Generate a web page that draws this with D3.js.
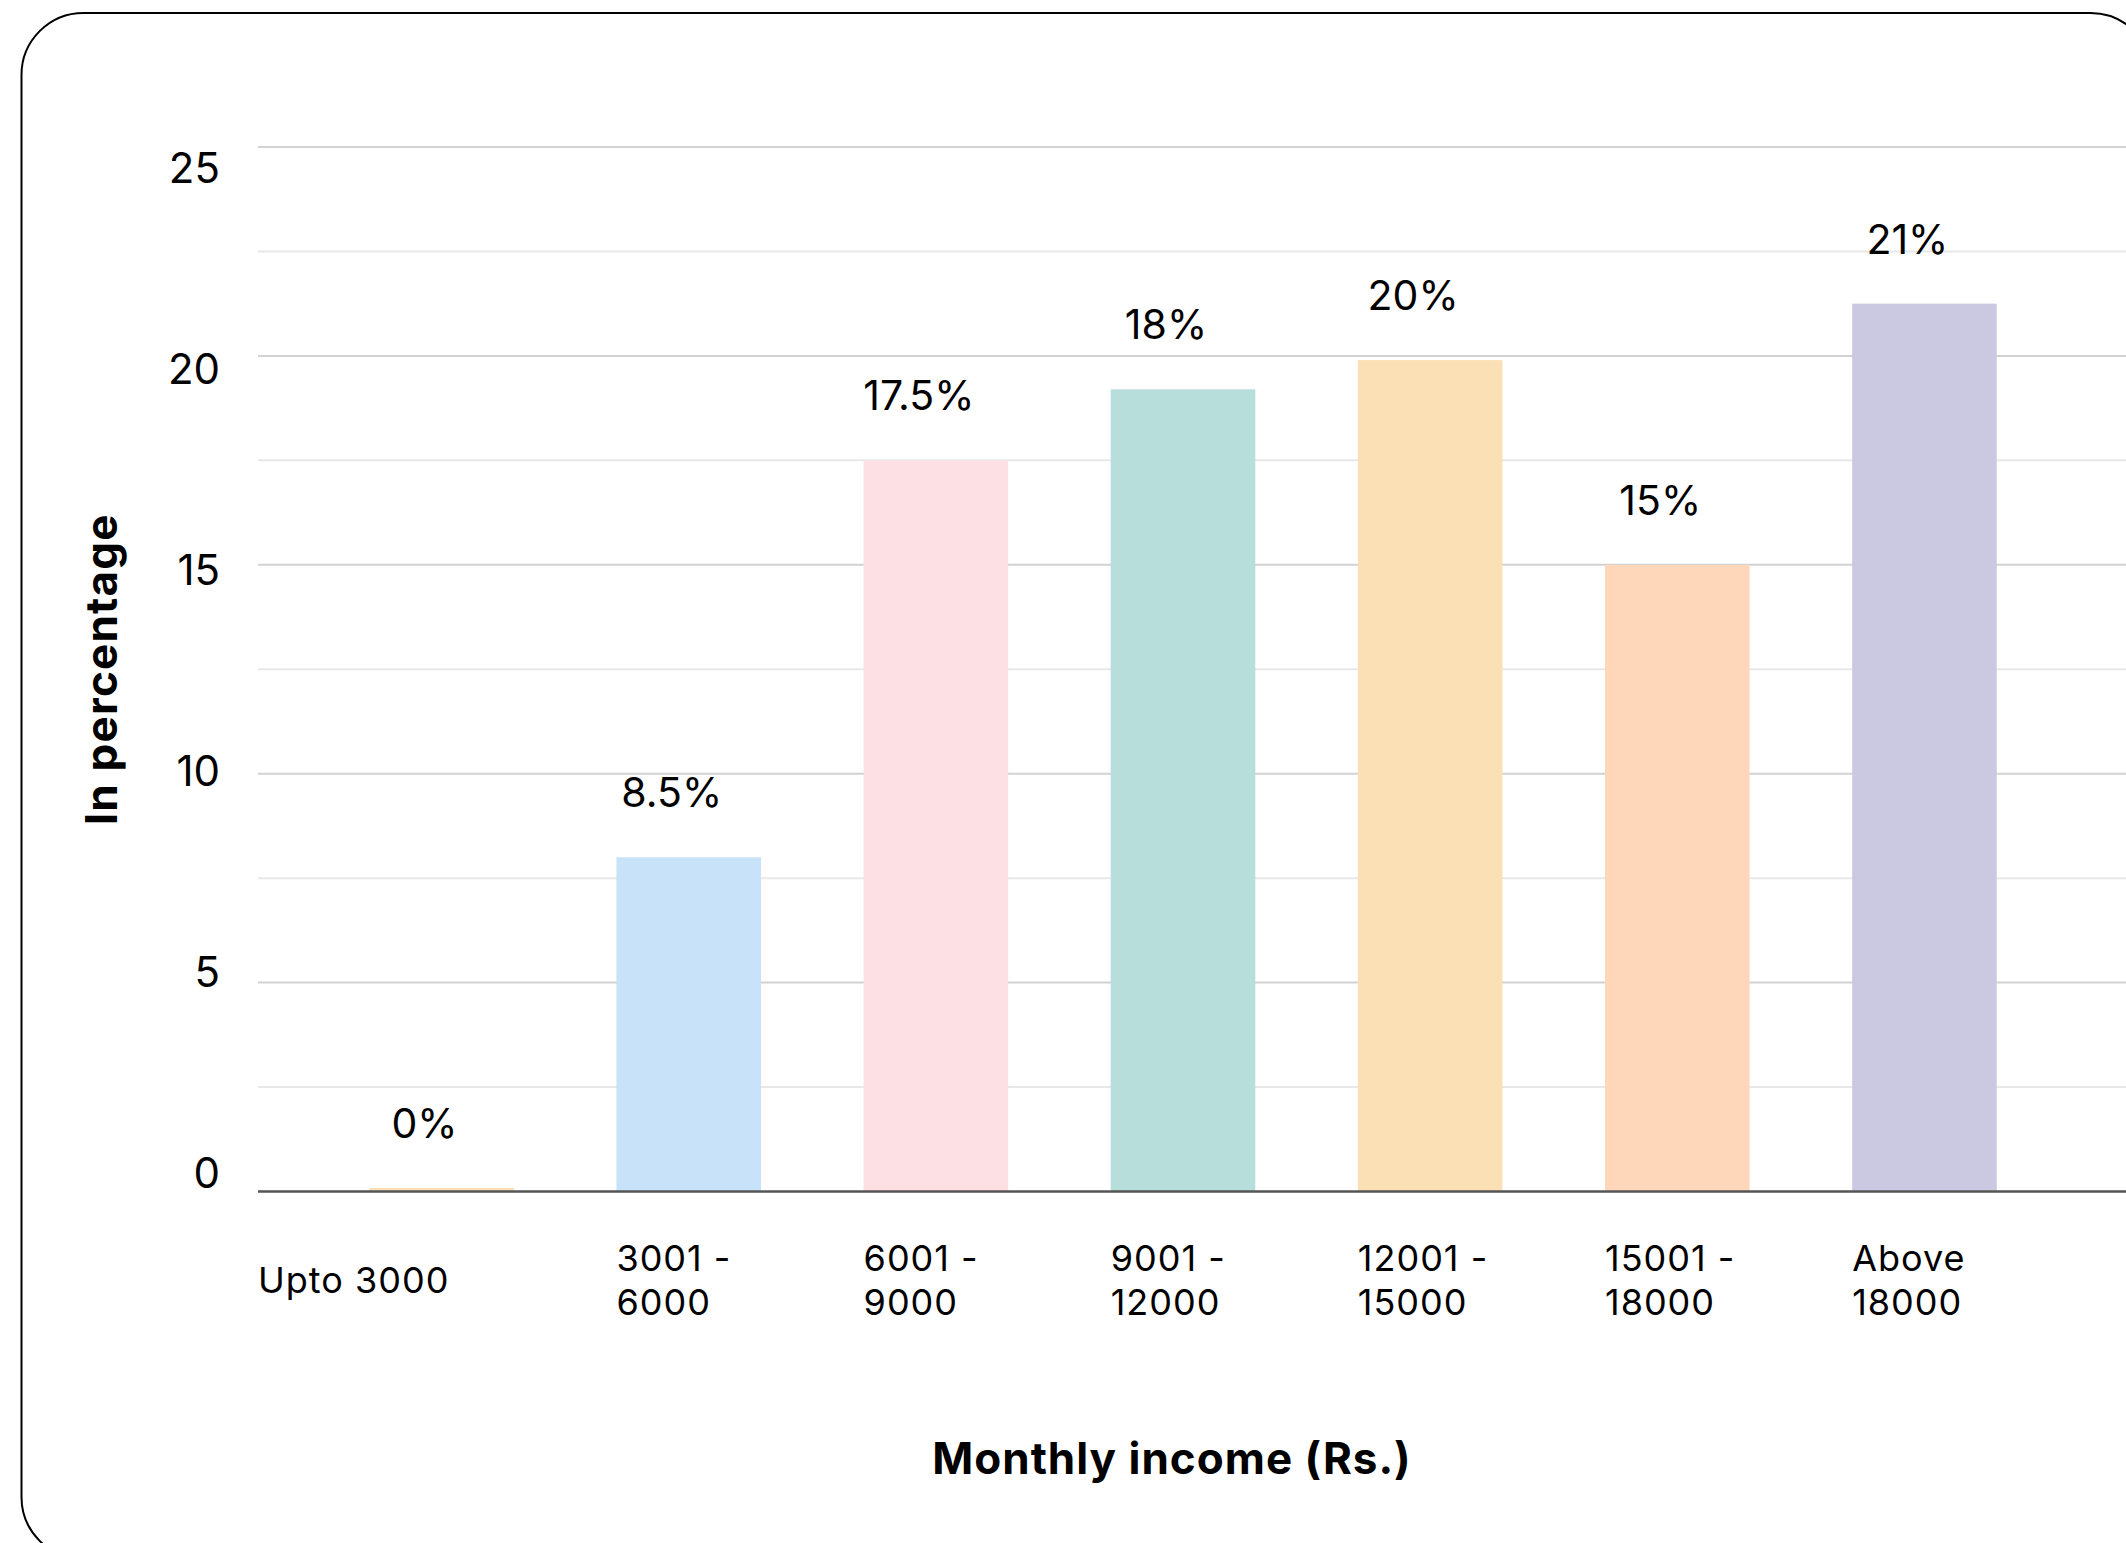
<!DOCTYPE html>
<html>
<head>
<meta charset="utf-8">
<script src="https://cdn.jsdelivr.net/npm/d3@7"></script>
<style>
  html, body { margin: 0; padding: 0; background: #ffffff; }
  svg { display: block; }
  text { font-family: Inter, "Noto Sans", sans-serif; fill: #000; }
</style>
</head>
<body>
<div id="chart"></div>
<script>
// ---------- data ----------
const categories = ["Upto 3000", "3001 - 6000", "6001 - 9000", "9001 - 12000", "12001 - 15000", "15001 - 18000", "Above 18000"];
const categoryLines = [["Upto 3000"], ["3001 -", "6000"], ["6001 -", "9000"], ["9001 -", "12000"], ["12001 -", "15000"], ["15001 -", "18000"], ["Above", "18000"]];
const values = [0, 8.0, 17.5, 19.2, 19.9, 15.0, 21.25];
const valueLabels = ["0%", "8.5%", "17.5%", "18%", "20%", "15%", "21%"];
const yTicks = [0, 5, 10, 15, 20, 25];
const yTitle = "In percentage";
const xTitle = "Monthly income (Rs.)";

// ---------- styles ----------
const palette = ["#fae0b3", "#c8e2f9", "#fde0e3", "#b8dedc", "#fae0b4", "#fed6ba", "#cbc9e1"];

const W = 2126, H = 1543;
const svg = d3.select("#chart").append("svg").attr("width", W).attr("height", H);

// frame
svg.append("rect")
  .attr("x", 21.5).attr("y", 13).attr("width", 2131).attr("height", 1546)
  .attr("rx", 62).attr("ry", 62)
  .attr("fill", "#fff").attr("stroke", "#000").attr("stroke-width", 2);

const plotLeft = 258, plotRight = W;
const y = d3.scaleLinear().domain([0, 25]).range([1191.5, 147]);
const yLabel = d3.scaleLinear().domain([0, 25]).range([1173, 168]);
const x = d3.scaleBand().domain(categories).range([318, 2048]).paddingInner(0.415).paddingOuter(0.2075);

// gridlines (major + minor)
const minor = d3.range(2.5, 25, 5);
svg.append("g").selectAll("line").data(minor).join("line")
  .attr("x1", plotLeft).attr("x2", plotRight)
  .attr("y1", d => y(d)).attr("y2", d => y(d))
  .attr("stroke", "#e8e8e8").attr("stroke-width", 2);
svg.append("g").selectAll("line").data(yTicks.filter(d => d > 0)).join("line")
  .attr("x1", plotLeft).attr("x2", plotRight)
  .attr("y1", d => y(d)).attr("y2", d => y(d))
  .attr("stroke", "#d2d2d2").attr("stroke-width", 2);

// y tick labels
svg.append("g").selectAll("text").data(yTicks).join("text")
  .attr("x", 220).attr("y", d => yLabel(d))
  .attr("dy", "0.36em")
  .attr("text-anchor", "end")
  .attr("font-size", 42)
  .text(d => d);

// bars
svg.append("g").selectAll("rect").data(values).join("rect")
  .attr("x", (d, i) => x(categories[i]))
  .attr("width", x.bandwidth())
  .attr("y", d => Math.min(y(d), y(0) - 3.5))
  .attr("height", d => Math.max(y(0) - y(d), 3.5))
  .attr("fill", (d, i) => palette[i]);

// zero axis line
svg.append("line")
  .attr("x1", plotLeft).attr("x2", plotRight)
  .attr("y1", y(0)).attr("y2", y(0))
  .attr("stroke", "#555").attr("stroke-width", 2.6);

// value labels
svg.append("g").selectAll("text").data(values).join("text")
  .attr("x", (d, i) => x(categories[i]) + x.bandwidth() / 2 - 17)
  .attr("y", d => Math.min(y(d), y(0) - 3.5) - 50)
  .attr("text-anchor", "middle")
  .attr("font-size", 41)
  .text((d, i) => valueLabels[i]);

// category labels (one text per line)
const catG = svg.append("g");
const lineGap = 44;
categoryLines.forEach((lines, i) => {
  const lx = i === 0 ? plotLeft : x(categories[i]);
  lines.forEach((ln, j) => {
    catG.append("text")
      .attr("x", lx)
      .attr("y", 1293 - (lines.length - 1) * lineGap / 2 + j * lineGap)
      .attr("font-size", 36)
      .attr("letter-spacing", 1)
      .text(ln);
  });
});

// axis titles
svg.append("text")
  .attr("transform", `translate(117, ${(y(0) + y(25)) / 2}) rotate(-90)`)
  .attr("text-anchor", "middle")
  .attr("font-size", 44).attr("font-weight", 700)
  .attr("letter-spacing", 1.2)
  .text(yTitle);

svg.append("text")
  .attr("x", 1172).attr("y", 1474)
  .attr("text-anchor", "middle")
  .attr("font-size", 44).attr("font-weight", 700)
  .attr("letter-spacing", 1)
  .text(xTitle);
</script>
</body>
</html>
